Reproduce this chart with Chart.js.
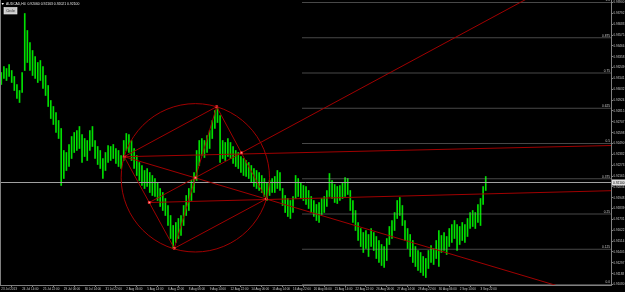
<!DOCTYPE html>
<html>
<head>
<meta charset="utf-8">
<title>AUDCAD,H4</title>
<script src="https://cdn.jsdelivr.net/npm/chart.js@4.4.0/dist/chart.umd.min.js"></script>
<style>
    html, body { margin: 0; padding: 0; background: #000; }
    #quadro { width: 625px; height: 292px; }
</style>
</head>
<body>
<div id="quadro"><canvas id="grafico" width="625" height="292"></canvas></div>
<script>
// --- Dados ---
const simbolo = 'AUDCAD,H4';
const cotacaoTitulo = ['0.92060', '0.92163', '0.92021', '0.92100'];
const textoBotao = 'Circle';

// Máximas e mínimas de cada barra H4 (índice da barra = posição no eixo X)
const maximas = [
    0.9320,0.9326,0.9324,0.9328,0.9322,0.9316,0.9308,0.9302,0.9320,0.9379,
    0.9362,0.9350,0.9342,0.9336,0.9330,0.9332,0.9326,0.9317,0.9307,0.9292,
    0.9286,0.9280,0.9272,0.9264,0.9242,0.9240,0.9248,0.9256,0.9260,0.9262,
    0.9266,0.9258,0.9254,0.9252,0.9262,0.9266,0.9252,0.9246,0.9242,0.9234,
    0.9240,0.9247,0.9246,0.9248,0.9244,0.9242,0.9237,0.9252,0.9259,0.9258,
    0.9252,0.9244,0.9237,0.9230,0.9227,0.9222,0.9224,0.9220,0.9217,0.9214,
    0.9210,0.9204,0.9200,0.9194,0.9187,0.9177,0.9167,0.9170,0.9174,0.9177,
    0.9187,0.9197,0.9204,0.9212,0.9220,0.9242,0.9252,0.9254,0.9252,0.9257,
    0.9262,0.9272,0.9282,0.9285,0.9277,0.9252,0.9250,0.9254,0.9250,0.9246,
    0.9242,0.9240,0.9236,0.9234,0.9232,0.9230,0.9227,0.9224,0.9222,0.9220,
    0.9217,0.9214,0.9210,0.9212,0.9214,0.9216,0.9222,0.9220,0.9204,0.9197,
    0.9194,0.9192,0.9196,0.9217,0.9214,0.9210,0.9207,0.9206,0.9202,0.9196,
    0.9192,0.9188,0.9190,0.9194,0.9196,0.9202,0.9219,0.9212,0.9208,0.9206,
    0.9207,0.9210,0.9215,0.9214,0.9202,0.9192,0.9182,0.9170,0.9164,0.9160,
    0.9162,0.9158,0.9164,0.9160,0.9156,0.9152,0.9148,0.9146,0.9154,0.9166,
    0.9172,0.9180,0.9192,0.9195,0.9187,0.9172,0.9164,0.9158,0.9152,0.9146,
    0.9142,0.9140,0.9136,0.9134,0.9142,0.9147,0.9144,0.9152,0.9162,0.9157,
    0.9160,0.9156,0.9164,0.9168,0.9172,0.9168,0.9166,0.9170,0.9168,0.9174,
    0.9180,0.9182,0.9180,0.9188,0.9194,0.9206,0.9216
];
const minimas = [
    0.9308,0.9314,0.9312,0.9316,0.9310,0.9302,0.9294,0.9290,0.9300,0.9322,
    0.9330,0.9322,0.9317,0.9314,0.9310,0.9312,0.9304,0.9297,0.9286,0.9274,
    0.9268,0.9260,0.9254,0.9207,0.9214,0.9222,0.9226,0.9234,0.9240,0.9242,
    0.9244,0.9230,0.9236,0.9232,0.9242,0.9246,0.9234,0.9228,0.9224,0.9214,
    0.9222,0.9230,0.9232,0.9234,0.9229,0.9226,0.9224,0.9232,0.9242,0.9240,
    0.9232,0.9224,0.9217,0.9212,0.9207,0.9204,0.9206,0.9200,0.9197,0.9196,
    0.9192,0.9186,0.9182,0.9177,0.9167,0.9154,0.9144,0.9150,0.9154,0.9157,
    0.9167,0.9177,0.9182,0.9192,0.9200,0.9212,0.9227,0.9237,0.9235,0.9240,
    0.9244,0.9254,0.9264,0.9270,0.9230,0.9234,0.9232,0.9236,0.9234,0.9229,
    0.9226,0.9224,0.9220,0.9217,0.9216,0.9214,0.9210,0.9206,0.9204,0.9202,
    0.9200,0.9196,0.9192,0.9197,0.9200,0.9200,0.9204,0.9202,0.9187,0.9180,
    0.9176,0.9174,0.9180,0.9194,0.9196,0.9194,0.9192,0.9188,0.9184,0.9180,
    0.9176,0.9172,0.9170,0.9178,0.9180,0.9186,0.9196,0.9194,0.9190,0.9189,
    0.9192,0.9194,0.9196,0.9198,0.9182,0.9170,0.9162,0.9152,0.9146,0.9140,
    0.9144,0.9136,0.9146,0.9142,0.9134,0.9130,0.9127,0.9125,0.9132,0.9148,
    0.9154,0.9162,0.9174,0.9177,0.9167,0.9152,0.9144,0.9136,0.9130,0.9126,
    0.9122,0.9120,0.9117,0.9115,0.9124,0.9130,0.9128,0.9134,0.9126,0.9140,
    0.9142,0.9138,0.9146,0.9150,0.9154,0.9142,0.9148,0.9152,0.9150,0.9156,
    0.9164,0.9166,0.9164,0.9170,0.9167,0.9188,0.9202
];

// Rótulos do eixo de tempo (um a cada 8 barras)
const rotulosTempo = [
    '23 Jul 2013', '24 Jul 14:00', '25 Jul 22:00', '29 Jul 06:00', '30 Jul 14:00',
    '31 Jul 22:00', '2 Aug 06:00', '5 Aug 14:00', '6 Aug 22:00', '8 Aug 06:00',
    '9 Aug 14:00', '12 Aug 22:00', '14 Aug 06:00', '15 Aug 14:00', '16 Aug 22:00',
    '20 Aug 06:00', '21 Aug 14:00', '22 Aug 22:00', '26 Aug 06:00', '27 Aug 14:00',
    '28 Aug 22:00', '30 Aug 06:00', '2 Sep 14:00', '3 Sep 22:00'
];
const passoRotulos = 8;

// Preços do eixo da direita
const precosEixo = [
    0.91080, 0.91188, 0.91297, 0.91405, 0.91514, 0.91622, 0.91731, 0.91839, 0.91948,
    0.92056, 0.92165, 0.92273, 0.92382, 0.92490, 0.92598, 0.92707, 0.92815, 0.92924,
    0.93032, 0.93141, 0.93249, 0.93358, 0.93466, 0.93575, 0.93683, 0.93792, 0.93900
];

// Fibonacci (níveis de 12,5%)
const niveisFibo = [0, 0.125, 0.25, 0.375, 0.5, 0.625, 0.75, 0.875, 1];
const rotulosFibo = ['0.0', '0.125', '0.25', '0.375', '0.5', '0.625', '0.75', '0.875', '1.0'];
const fiboPreco0 = 0.9108;
const fiboPreco100 = 0.9390;
const fiboBarraInicio = 115.65;

// Linha do Bid
const precoBid = 0.92100;

// Pontos do desenho (barra, preço)
const pontoA = [47.19, 0.92358];
const pontoB = [82.69, 0.92858];
const pontoC = [66.42, 0.91442];
const pontoD = [101.69, 0.91935];
const pontoE = [56.81, 0.91900];
const pontoG = [92.19, 0.92397];
const centro = [74.50, 0.92147];
const fimRaioA = [234.1, 0.92470];
const fimRaioE = [234.1, 0.92018];

// --- Configuração visual ---
const FONTE = 'Liberation Sans';
const corVermelha = '#a00000';
const corCinza = '#808080';
const corTexto = '#c8c8c8';
const xMin = -0.5;
const xMax = 234.1;

Chart.defaults.font.family = FONTE;

function segmento(p1, p2) {
    return [{ x: p1[0], y: p1[1] }, { x: p2[0], y: p2[1] }];
}

// Prolonga a reta p1->p2 até a barra xFim
function raio(p1, p2, xFim) {
    const incl = (p2[1] - p1[1]) / (p2[0] - p1[0]);
    return [{ x: p1[0], y: p1[1] }, { x: xFim, y: p1[1] + incl * (xFim - p1[0]) }];
}

function linha(dados, cor, tracejado, ordem) {
    return {
        type: 'line',
        data: dados,
        borderColor: cor,
        borderWidth: 1,
        borderDash: tracejado || [],
        pointRadius: 0,
        fill: false,
        tension: 0,
        order: ordem
    };
}

// --- Datasets ---
const barras = {
    type: 'bar',
    data: maximas.map((h, i) => ({ x: i, y: [minimas[i], h] })),
    backgroundColor: 'rgb(0,225,0)',
    borderWidth: 0,
    barThickness: 1,
    order: 10
};

const linhasFibo = niveisFibo.map(n => {
    const p = fiboPreco0 + n * (fiboPreco100 - fiboPreco0);
    return linha([{ x: fiboBarraInicio, y: p }, { x: xMax + 5, y: p }], '#909090', [1, 1], 6);
});

const linhaBid = linha([{ x: xMin, y: precoBid }, { x: xMax, y: precoBid }], '#a0a0a0', [], 5);

const linhasVermelhas = [
    segmento(pontoA, pontoB),
    segmento(pontoB, pontoD),
    segmento(pontoD, pontoC),
    segmento(pontoC, pontoA),
    segmento(pontoB, pontoC),
    raio(pontoA, pontoD, 240),
    raio(pontoE, pontoG, 240),
    segmento(pontoA, fimRaioA),
    segmento(pontoE, fimRaioE)
].map(d => linha(d, corVermelha, [], 2));

const marcadores = {
    type: 'line',
    showLine: false,
    data: [pontoA, pontoB, pontoC, pontoD, pontoE, pontoG, centro].map(p => ({ x: p[0], y: p[1] })),
    pointStyle: 'rect',
    pointRadius: 1.4,
    pointBackgroundColor: '#ffc8c8',
    pointBorderColor: '#ff2020',
    pointBorderWidth: 0.8,
    order: 0
};

// --- Plugin: círculo, rótulos Fibo, título, botão e etiqueta do Bid ---
const desenhosExtras = {
    id: 'desenhosExtras',
    afterDatasetsDraw(chart) {
        const { ctx, chartArea, scales: { x, y } } = chart;
        ctx.save();
        ctx.beginPath();
        ctx.rect(chartArea.left, chartArea.top, chartArea.right - chartArea.left, chartArea.bottom - chartArea.top);
        ctx.clip();

        // círculo passando pelos vértices do retângulo
        const cx = x.getPixelForValue(centro[0]);
        const cy = y.getPixelForValue(centro[1]);
        const r = Math.hypot(x.getPixelForValue(pontoA[0]) - cx, y.getPixelForValue(pontoA[1]) - cy);
        ctx.strokeStyle = corVermelha;
        ctx.lineWidth = 1;
        ctx.beginPath();
        ctx.arc(cx, cy, r, 0, Math.PI * 2);
        ctx.stroke();

        // rótulos dos níveis Fibo
        ctx.font = '3.2px "' + FONTE + '"';
        ctx.fillStyle = corTexto;
        ctx.textAlign = 'right';
        ctx.textBaseline = 'bottom';
        niveisFibo.forEach((n, k) => {
            const py = y.getPixelForValue(fiboPreco0 + n * (fiboPreco100 - fiboPreco0));
            ctx.fillText(rotulosFibo[k], chartArea.right - 1, py - 0.5);
        });
        ctx.restore();
    },
    afterDraw(chart) {
        const { ctx, chartArea, scales: { y } } = chart;
        ctx.save();

        // moldura esquerda
        ctx.strokeStyle = corCinza;
        ctx.lineWidth = 1;
        ctx.beginPath();
        ctx.moveTo(0.5, 0);
        ctx.lineTo(0.5, chartArea.bottom);
        ctx.stroke();

        // título
        ctx.fillStyle = '#ffffff';
        ctx.beginPath();
        ctx.moveTo(1.5, 3);
        ctx.lineTo(4, 3);
        ctx.lineTo(2.75, 5);
        ctx.closePath();
        ctx.fill();
        ctx.font = '3.4px "' + FONTE + '"';
        ctx.fillStyle = '#e8e8e8';
        ctx.textAlign = 'left';
        ctx.textBaseline = 'middle';
        ctx.fillText(simbolo + '  ' + cotacaoTitulo.join(' '), 6, 4.2);

        // botão
        ctx.fillStyle = '#c8c8c8';
        ctx.fillRect(4, 7.5, 13, 6.5);
        ctx.strokeStyle = '#f0f0f0';
        ctx.lineWidth = 0.6;
        ctx.strokeRect(4, 7.5, 13, 6.5);
        ctx.fillStyle = '#202020';
        ctx.font = '3.4px "' + FONTE + '"';
        ctx.textAlign = 'center';
        ctx.fillText(textoBotao, 10.5, 10.8);

        // etiqueta do Bid no eixo de preços
        const pb = y.getPixelForValue(precoBid);
        ctx.fillStyle = '#e0e0e0';
        ctx.fillRect(chartArea.right + 1, pb - 3, 625 - chartArea.right - 1, 6);
        ctx.fillStyle = '#000000';
        ctx.font = '3.2px "' + FONTE + '"';
        ctx.textAlign = 'left';
        ctx.fillText(precoBid.toFixed(5), chartArea.right + 2, pb + 0.2);
        ctx.restore();
    }
};

// --- Gráfico ---
const grafico = new Chart(document.getElementById('grafico'), {
    type: 'bar',
    data: {
        datasets: [barras, ...linhasFibo, linhaBid, ...linhasVermelhas, marcadores]
    },
    options: {
        responsive: false,
        maintainAspectRatio: false,
        devicePixelRatio: 1,
        animation: false,
        layout: { padding: 0, autoPadding: false },
        plugins: {
            legend: { display: false },
            tooltip: { enabled: false },
            title: { display: false }
        },
        scales: {
            x: {
                type: 'linear',
                min: xMin,
                max: xMax,
                offset: false,
                afterBuildTicks: (scale) => {
                    scale.ticks = rotulosTempo.map((_, k) => ({ value: k * passoRotulos }));
                },
                afterFit: (scale) => {
                    scale.height = 7;
                    scale.paddingLeft = 0;
                    scale.paddingRight = 0;
                },
                ticks: {
                    autoSkip: false,
                    maxRotation: 0,
                    minRotation: 0,
                    align: 'start',
                    padding: 0.5,
                    color: corTexto,
                    font: { size: 3 },
                    callback: (v, idx) => rotulosTempo[idx]
                },
                grid: { display: true, drawOnChartArea: false, drawTicks: true, tickLength: 2, color: corCinza },
                border: { display: true, color: corCinza }
            },
            y: {
                type: 'linear',
                position: 'right',
                min: 0.91075,
                max: 0.93925,
                afterBuildTicks: (scale) => {
                    scale.ticks = precosEixo.map(v => ({ value: v }));
                },
                afterFit: (scale) => {
                    scale.width = 14;
                    scale.paddingTop = 0;
                    scale.paddingBottom = 0;
                },
                ticks: {
                    autoSkip: false,
                    padding: 0.5,
                    color: corTexto,
                    font: { size: 3 },
                    callback: (v) => Number(v).toFixed(5)
                },
                grid: { display: true, drawOnChartArea: false, drawTicks: true, tickLength: 2, color: corCinza },
                border: { display: true, color: corCinza }
            }
        }
    },
    plugins: [desenhosExtras]
});
</script>
</body>
</html>
